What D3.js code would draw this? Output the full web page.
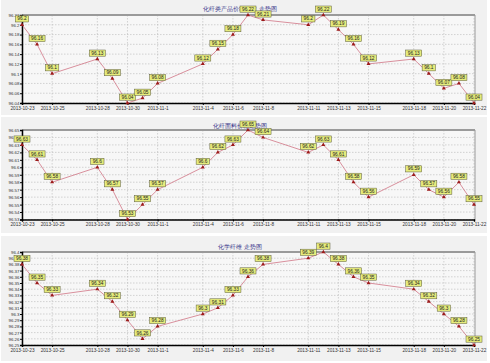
<!DOCTYPE html>
<html>
<head>
<meta charset="utf-8">
<script src="https://cdn.jsdelivr.net/npm/d3@7"></script>
<style>
  body { margin: 0; background: #fff; }
  text { font-family: "Liberation Sans", Arial, sans-serif; }
</style>
</head>
<body>
<svg id="chart"></svg>
<script>
// Chart data
const dates = [
  "2013-10-23", "2013-10-24", "2013-10-25", "2013-10-28", "2013-10-29",
  "2013-10-30", "2013-10-31", "2013-11-01", "2013-11-04", "2013-11-05",
  "2013-11-06", "2013-11-07", "2013-11-08", "2013-11-11", "2013-11-12",
  "2013-11-13", "2013-11-14", "2013-11-15", "2013-11-18", "2013-11-19",
  "2013-11-20", "2013-11-21", "2013-11-22"
];
const tickDates = [
  "2013-10-23", "2013-10-25", "2013-10-28", "2013-10-30", "2013-11-01",
  "2013-11-04", "2013-11-06", "2013-11-08", "2013-11-11", "2013-11-13",
  "2013-11-15", "2013-11-18", "2013-11-20", "2013-11-22"
];
const titles = ["化纤类产品价格指数 走势图", "化纤面料价格走势图", "化学纤维 走势图"];
const productValues = [96.2, 96.16, 96.1, 96.13, 96.09, 96.04, 96.05, 96.08, 96.12, 96.15,
  96.18, 96.22, 96.21, 96.2, 96.22, 96.19, 96.16, 96.12, 96.13, 96.1, 96.07, 96.08, 96.04];
const fabricValues = [96.63, 96.61, 96.58, 96.6, 96.57, 96.53, 96.55, 96.57, 96.6, 96.62,
  96.63, 96.65, 96.64, 96.62, 96.63, 96.61, 96.58, 96.56, 96.59, 96.57, 96.56, 96.58, 96.55];
const fiberValues = [96.38, 96.35, 96.33, 96.34, 96.32, 96.29, 96.26, 96.28, 96.3, 96.31,
  96.33, 96.36, 96.38, 96.39, 96.4, 96.38, 96.36, 96.35, 96.34, 96.32, 96.3, 96.28, 96.25];
const yDomains = [[96.04, 96.22], [96.53, 96.65], [96.25, 96.4]];
const yTickSteps = [0.02, 0.01, 0.01];

const width = 490, height = 363;
const svg = d3.select("#chart").attr("width", width).attr("height", height);
const parse = d3.timeParse("%Y-%m-%d");
// 2013-10-23 style, no zero pad for day (2013-11-1)
const fmtTick = (d) => `${d.getFullYear()}-${d.getMonth() + 1}-${d.getDate()}`;

// panel layout: background box, plot top/bottom
const panels = [
  { values: productValues, bgTop: 0, bgBottom: 115, top: 15, bottom: 103, titleY: 11 },
  { values: fabricValues, bgTop: 117, bgBottom: 233, top: 130, bottom: 219.5, titleY: 128 },
  { values: fiberValues, bgTop: 236, bgBottom: 361, top: 252, bottom: 345, titleY: 249 }
];
const left = 22, right = 474;

const x = d3.scaleTime()
  .domain([parse(dates[0]), parse(dates[dates.length - 1])])
  .range([left, right]);

panels.forEach((p, i) => {
  const g = svg.append("g");
  const y = d3.scaleLinear().domain(yDomains[i]).range([p.bottom, p.top]);
  const [y0, y1] = yDomains[i];
  const step = yTickSteps[i];
  const yTicks = d3.range(0, Math.round((y1 - y0) / step) + 1).map((k) => +(y0 + k * step).toFixed(2));

  g.append("rect")
    .attr("x", 1).attr("y", p.bgTop)
    .attr("width", width - 4).attr("height", p.bgBottom - p.bgTop)
    .attr("fill", "#f1f1f1");
  g.append("rect")
    .attr("x", left).attr("y", p.top)
    .attr("width", right - left + 1).attr("height", p.bottom - p.top)
    .attr("fill", "#f7f7f7");

  // grid
  g.append("g").selectAll("line").data(yTicks).join("line")
    .attr("x1", left).attr("x2", right + 1)
    .attr("y1", (d) => y(d)).attr("y2", (d) => y(d))
    .attr("stroke", "#b8b8b8").attr("stroke-width", 0.6).attr("stroke-dasharray", "1.5,1.5");
  g.append("g").selectAll("line").data(tickDates.map(parse)).join("line")
    .attr("x1", (d) => x(d)).attr("x2", (d) => x(d))
    .attr("y1", p.top).attr("y2", p.bottom)
    .attr("stroke", "#b8b8b8").attr("stroke-width", 0.6).attr("stroke-dasharray", "1.5,1.5");

  // frame: thick gray top, thin right, black left/bottom
  g.append("line").attr("x1", left).attr("x2", right + 1).attr("y1", p.top).attr("y2", p.top)
    .attr("stroke", "#9a9a9a").attr("stroke-width", 2);
  g.append("line").attr("x1", right + 1).attr("x2", right + 1).attr("y1", p.top).attr("y2", p.bottom)
    .attr("stroke", "#9a9a9a").attr("stroke-width", 1);

  const yAxis = g.append("g").attr("transform", `translate(${left},0)`)
    .call(d3.axisLeft(y).tickValues(yTicks).tickSize(2).tickFormat((d) => String(d)));
  const xAxis = g.append("g").attr("transform", `translate(0,${p.bottom})`)
    .call(d3.axisBottom(x).tickValues(tickDates.map(parse)).tickSize(2).tickFormat(fmtTick));
  [yAxis, xAxis].forEach((a) => {
    a.select(".domain").attr("stroke", "#000").attr("stroke-width", 1.5);
    a.selectAll(".tick line").attr("stroke", "#000");
    a.selectAll(".tick text")
      .attr("font-size", "4.7px")
      .attr("font-family", "Liberation Sans, Arial, sans-serif")
      .attr("fill", "#333");
  });
  yAxis.selectAll(".tick text").attr("x", -2.5).attr("font-size", "4.4px");
  xAxis.selectAll(".tick text").attr("y", 3.5);

  // title
  g.append("text")
    .attr("x", 240).attr("y", p.titleY)
    .attr("text-anchor", "middle")
    .attr("font-size", "6px")
    .attr("fill", "#3a3a8c")
    .attr("font-family", "Noto Sans CJK SC")
    .text(titles[i]);

  const pts = dates.map((d, k) => ({ date: parse(d), value: p.values[k] }));

  g.append("path")
    .datum(pts)
    .attr("fill", "none")
    .attr("stroke", "#d07585")
    .attr("stroke-width", 0.8)
    .attr("d", d3.line().x((d) => x(d.date)).y((d) => y(d.value)));

  g.append("g").selectAll("path").data(pts).join("path")
    .attr("transform", (d) => `translate(${x(d.date)},${y(d.value)})`)
    .attr("d", d3.symbol(d3.symbolTriangle, 7))
    .attr("fill", "#9c1a1a");

  const labels = g.append("g").selectAll("g").data(pts).join("g")
    .attr("transform", (d) => `translate(${x(d.date)},${y(d.value) - 2.6})`);
  labels.each(function (d) {
    const lg = d3.select(this);
    const t = lg.append("text")
      .attr("text-anchor", "middle")
      .attr("y", -1.7)
      .attr("font-size", "4.8px")
      .attr("fill", "#222")
      .text(String(d.value));
    const w = t.node().getComputedTextLength() + 4;
    lg.insert("rect", "text")
      .attr("x", -w / 2).attr("y", -6.4)
      .attr("width", w).attr("height", 6.2)
      .attr("fill", "#e6ec7c")
      .attr("stroke", "#5a5a3a")
      .attr("stroke-width", 0.5);
  });
});
</script>
</body>
</html>
